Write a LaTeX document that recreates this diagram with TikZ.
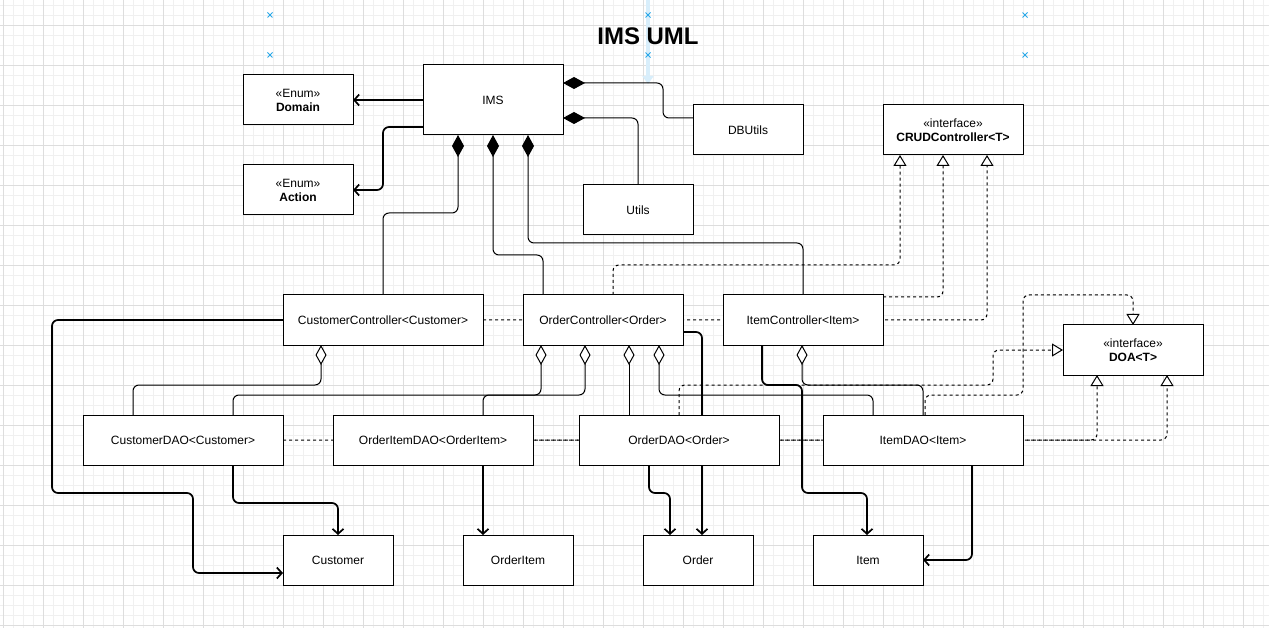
\documentclass[tikz,border=0pt]{standalone}
\usepackage{fontspec}
\setmainfont{Liberation Sans}
\usetikzlibrary{arrows.meta}
\usetikzlibrary{calc}
\usetikzlibrary{backgrounds}

\definecolor{gridminor}{HTML}{F0F0F0}
\definecolor{gridmajor}{HTML}{DDDDDD}
\definecolor{selblue}{HTML}{29A8E8}
\definecolor{hintblue}{HTML}{D8EEFB}

\begin{document}
\begin{tikzpicture}[x=1pt,y=-1pt,
		font=\fontsize{12}{14}\selectfont,
		umlbox/.style={draw, line width=1pt, fill=white, inner sep=0pt, outer sep=0pt, align=center},
		smallbox/.style={umlbox, minimum width=110pt, minimum height=50pt},
		midbox/.style={umlbox, minimum width=160pt, minimum height=50pt},
		widebox/.style={umlbox, minimum width=200pt, minimum height=50pt},
		ifacebox/.style={umlbox, minimum width=140pt, minimum height=50pt},
		comp/.style={line width=1pt, rounded corners=6pt, {Diamond[length=22pt,width=12pt]}-},
		aggr/.style={line width=1pt, rounded corners=6pt, {Diamond[fill=white,length=20pt,width=11pt]}-},
		assoc/.style={line width=1.7pt, rounded corners=6pt, -{Straight Barb[length=5pt,width=11pt]}},
		real/.style={line width=1pt, rounded corners=6pt, dash pattern=on 3pt off 3pt, -{Triangle[fill=white,length=11pt,width=13pt]}}]
	\useasboundingbox (0,0) rectangle (1269,628);

	\node[font=\fontsize{24}{28}\selectfont\bfseries] (title) at (648,36) {IMS UML};

	% top row
	\node[smallbox] (domain) at (298,100) {«Enum»\\\textbf{Domain}};
	\node[smallbox] (action) at (298,190) {«Enum»\\\textbf{Action}};
	\node[umlbox, minimum width=140pt, minimum height=70pt] (ims) at (493,100) {IMS};
	\node[smallbox] (dbutils) at (748,130) {DBUtils};
	\node[smallbox] (utils) at (638,210) {Utils};
	\node[ifacebox] (crud) at (953,130) {«interface»\\\textbf{CRUDController<T>}};

	% controllers
	\node[widebox] (ccontrol) at (383,320) {CustomerController<Customer>};
	\node[midbox] (ocontrol) at (603,320) {OrderController<Order>};
	\node[midbox] (icontrol) at (803,320) {ItemController<Item>};
	\node[ifacebox] (doa) at (1133,350) {«interface»\\\textbf{DOA<T>}};

	% daos
	\node[widebox] (cdao) at (183,440) {CustomerDAO<Customer>};
	\node[widebox] (oidao) at (433,440) {OrderItemDAO<OrderItem>};
	\node[widebox] (odao) at (679,440) {OrderDAO<Order>};
	\node[widebox] (idao) at (923,440) {ItemDAO<Item>};

	% entities
	\node[smallbox] (customer) at (338,560) {Customer};
	\node[smallbox] (oitem) at (518,560) {OrderItem};
	\node[smallbox] (order) at (698,560) {Order};
	\node[smallbox] (item) at (868,560) {Item};

	\begin{scope}[on background layer]
		\fill[white] (0,0) rectangle (1269,628);
		\foreach \x in {3,13,...,1263}
			\draw[gridminor] (\x,0) -- (\x,628);
		\foreach \y in {5,15,...,625}
			\draw[gridminor] (0,\y) -- (1269,\y);
		\foreach \x in {3,43,...,1263}
			\draw[gridmajor] (\x,0) -- (\x,628);
		\foreach \y in {25,65,...,625}
			\draw[gridmajor] (0,\y) -- (1269,\y);

		\draw[hintblue, line width=4pt, -{Triangle[length=8pt,width=11pt]}] (648,0) -- (648,84);
		\foreach \x in {270,648,1025}
			\foreach \y in {15,55}
				\draw[selblue, line width=0.8pt] (\x-2.5,\y-2.5) -- (\x+2.5,\y+2.5) (\x-2.5,\y+2.5) -- (\x+2.5,\y-2.5);

		% IMS
		\draw[assoc] (ims) -- (domain);
		\draw[assoc] ($(ims.south west)+(0,-8)$) -- ++(-40,0) |- (action.east);
		\draw[comp] ($(ims.north east)+(0,18)$) -| ($(dbutils.north west)+(-30,13)$) -- ($(dbutils.north west)+(0,13)$);
		\draw[comp] ($(ims.north east)+(0,53)$) -| (utils.north);
		\draw[comp] ($(ims.south west)+(35,0)$) |- ($(ccontrol.north)+(0,-82)$) -- (ccontrol.north);
		\draw[comp] (ims.south) |- ($(ocontrol.north west)+(20,-40)$) -- ($(ocontrol.north west)+(20,0)$);
		\draw[comp] ($(ims.south east)+(-35,0)$) |- ($(icontrol.north)+(0,-52)$) -- (icontrol.north);

		% CRUDController
		\draw[real] (ccontrol.east) -| ($(crud.south east)+(-36,0)$);
		\draw[real] ($(ocontrol.north west)+(90,0)$) |- ($(crud.south west)+(17,110)$) -- ($(crud.south west)+(17,0)$);
		\draw[real] ($(icontrol.north east)+(0,2)$) -| ($(crud.south west)+(60,0)$);

		% DOA
		\draw[real] (cdao.east) -| ($(doa.south east)+(-36,0)$);
		\draw[real] (oidao.east) -| ($(doa.south west)+(34,0)$);
		\draw[real] (odao.north) -- ++(0,-30) -| ($(doa.west)+(-70,0)$) -- (doa.west);
		\draw[real] ($(idao.north)+(2,0)$) -- ++(0,-20) -| ($(doa.north)+(-110,-30)$) -| (doa.north);

		% aggregations
		\draw[aggr] ($(ccontrol.south west)+(38,0)$) |- ($(cdao.north west)+(50,-30)$) -- ($(cdao.north west)+(50,0)$);
		\draw[aggr] ($(ocontrol.south west)+(18,0)$) |- ($(cdao.north west)+(150,-20)$) -- ($(cdao.north west)+(150,0)$);
		\draw[aggr] ($(ocontrol.south west)+(62,0)$) |- ($(oidao.north west)+(150,-20)$) -- ($(oidao.north west)+(150,0)$);
		\draw[aggr] ($(ocontrol.south west)+(106,0)$) -- ($(odao.north west)+(50,0)$);
		\draw[aggr] ($(ocontrol.south west)+(136,0)$) |- ($(idao.north west)+(50,-20)$) -- ($(idao.north west)+(50,0)$);
		\draw[aggr] ($(icontrol.south west)+(79,0)$) |- ($(idao.north)+(0,-30)$) -- (idao.north);

		% entities
		\draw[assoc] (ccontrol.west) -- ++(-231,0) |- ++(141,173) |- ($(customer.south west)+(0,-12)$);
		\draw[assoc] ($(cdao.south west)+(150,0)$) |- ($(customer.north)+(0,-32)$) -- (customer.north);
		\draw[assoc] ($(oidao.south west)+(150,0)$) -- ($(oitem.north west)+(20,0)$);
		\draw[assoc] ($(odao.south west)+(70,0)$) |- ($(order.north west)+(27,-42)$) -- ($(order.north west)+(27,0)$);
		\draw[assoc] ($(ocontrol.north east)+(0,37)$) -| ($(order.north west)+(59,0)$);
		\draw[assoc] ($(icontrol.south west)+(39,0)$) |- ++(40,40) |- ($(item.north west)+(54,-42)$) -- ($(item.north west)+(54,0)$);
		\draw[assoc] ($(idao.south west)+(149,0)$) |- (item.east);
	\end{scope}
\end{tikzpicture}
\end{document}
